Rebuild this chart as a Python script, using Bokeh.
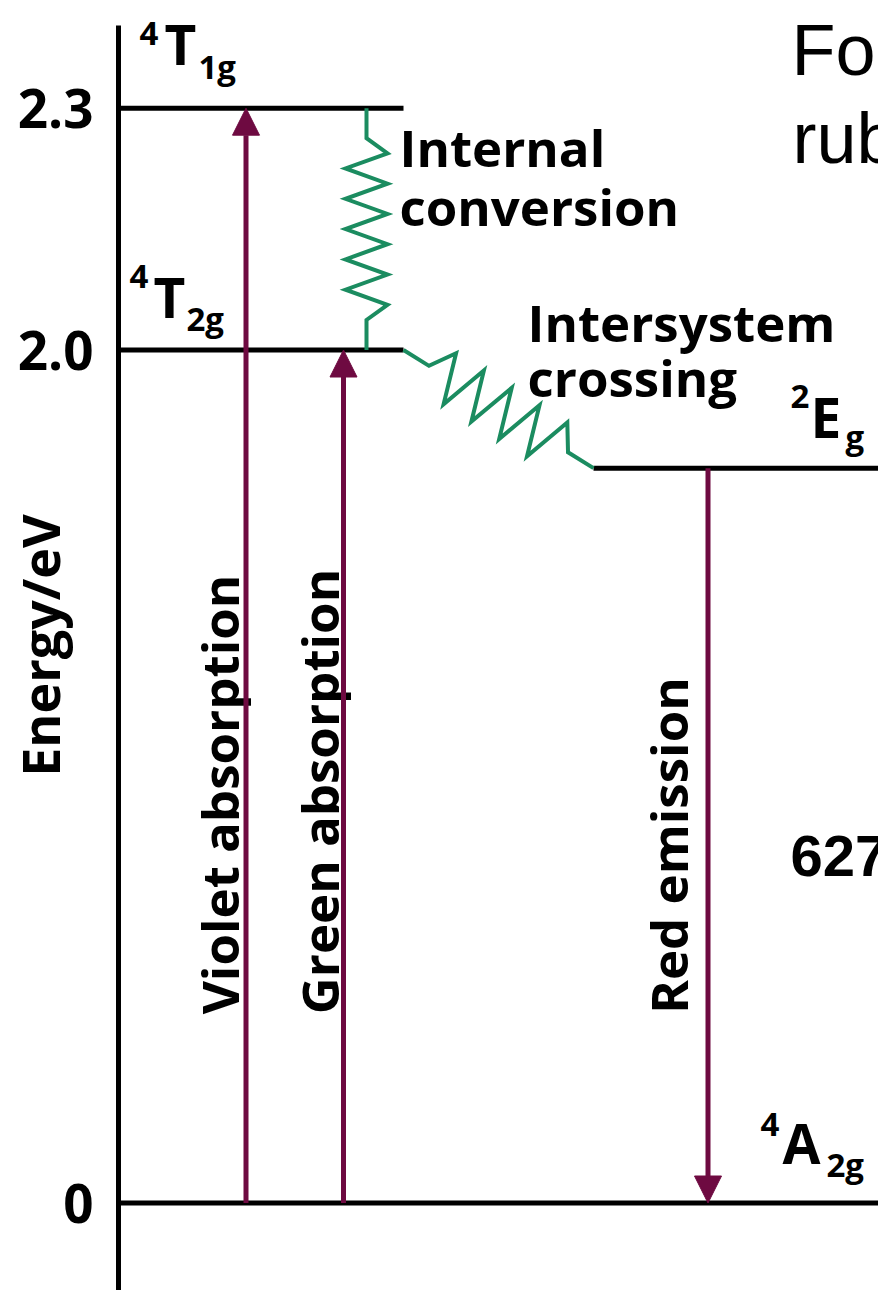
import numpy as np
from bokeh.plotting import figure
from bokeh.models import Range1d, FixedTicker, ColumnDataSource, Arrow, NormalHead
from bokeh.core.properties import value
from bokeh.embed import file_html
from bokeh.resources import INLINE

# ---------------- data ----------------
level_terms = ["4A2g", "2Eg", "4T2g", "4T1g"]
level_sup = ["4", "2", "4", "4"]
level_main = ["A", "E", "T", "T"]
level_sub = ["2g", "g", "2g", "1g"]
level_heights = [0.0, 1.723, 2.0, 2.567]      # schematic height on the diagram
tick_heights = [0.0, 2.0, 2.567]
tick_labels = ["0", "2.0", "2.3"]
axis_title = "Energy/eV"

radiative_names = ["Violet absorption", "Green absorption", "Red emission"]
radiative_from = ["4A2g", "4A2g", "2Eg"]
radiative_to = ["4T1g", "4T2g", "4A2g"]

nonrad_names = [["Internal", "conversion"], ["Intersystem", "crossing"]]
nonrad_from = ["4T1g", "4T2g"]
nonrad_to = ["4T2g", "2Eg"]

title_lines = ["Fo", "rub"]
wavelength_text = "627"

# ---------------- layout / style ----------------
W, H = 878, 1290
LEFT = 118
K = 426.5               # px per diagram unit
Y0PX = 1202.5           # pixel row of height 0
SHIFT = 0.43            # anchor offset (fraction of font size) above the baseline


def ry(py):
    return (Y0PX - py) / K


def by(py, fs):
    return ry(py - SHIFT * fs)


Y_TOP = ry(0)
Y_BOT = ry(H)

ARROW_C = "#6e0a41"
ZIG_C = "#1b8c60"
FONT = value("Open Sans")
height_of = dict(zip(level_terms, level_heights))

level_x = {"4A2g": (118, 900), "2Eg": (593, 900), "4T2g": (118, 403), "4T1g": (118, 403)}
label_pos = {  # (sup x, sup y), (main x, main y), (sub x, sub y) baselines in px
    "4T1g": ((139, 47), (164, 67), (198, 80)),
    "4T2g": ((129, 290), (153, 320), (186, 332)),
    "2Eg": ((790, 410), (810, 440), (845, 450)),
    "4A2g": ((760, 1138), (782, 1166), (826, 1178)),
}
arrow_x = [245.5, 343, 707.5]
text_x = [240, 340, 689]
text_cy = [794, 791, 845]
MAIN_FS, SMALL_FS, TXT_FS = 55, 33, 51

p = figure(width=W, height=H, x_range=Range1d(LEFT, W),
           y_range=Range1d(Y_BOT, Y_TOP), x_axis_location=None,
           y_axis_location="left", toolbar_location=None, output_backend="svg",
           min_border_left=LEFT, min_border_right=0, min_border_top=0,
           min_border_bottom=0, background_fill_color="white",
           border_fill_color="white")
p.outline_line_color = None
p.grid.visible = False

ax = p.yaxis[0]
ax.ticker = FixedTicker(ticks=tick_heights)
ax.major_label_overrides = dict(zip(tick_heights, tick_labels))
ax.major_label_text_font = "Open Sans"
ax.major_label_text_font_style = "bold"
ax.major_label_text_font_size = "53px"
ax.major_label_text_color = "black"
ax.major_label_standoff = 25
ax.major_tick_in = 0
ax.major_tick_out = 0
ax.minor_tick_in = 0
ax.minor_tick_out = 0
ax.axis_line_width = 5
ax.axis_line_color = "black"
ax.bounds = (Y_BOT, ry(25))
ax.axis_label = axis_title
ax.axis_label_text_font = "Open Sans"
ax.axis_label_text_font_style = "bold"
ax.axis_label_text_font_size = "52px"
ax.axis_label_text_color = "black"
ax.axis_label_standoff = -60

# energy levels
lev = ColumnDataSource(dict(
    x0=[level_x[t][0] for t in level_terms],
    x1=[level_x[t][1] for t in level_terms],
    y=level_heights))
p.segment(x0="x0", y0="y", x1="x1", y1="y", source=lev, line_color="black",
          line_width=5, line_cap="butt")

# term symbols
for t, sup, main, sub in zip(level_terms, level_sup, level_main, level_sub):
    (sx, sy), (mx, my), (bx, bb) = label_pos[t]
    p.text(x=[mx], y=[by(my, MAIN_FS)], text=[main], text_font=FONT,
           text_font_style="bold", text_font_size=f"{MAIN_FS}px",
           text_color="black", text_baseline="alphabetic")
    p.text(x=[sx, bx], y=[by(sy, SMALL_FS), by(bb, SMALL_FS)], text=[sup, sub],
           text_font=FONT, text_font_style="bold", text_font_size=f"{SMALL_FS}px",
           text_color="black", text_baseline="alphabetic")


# non-radiative zigzags
def zigzag(x0, y0, x1, y1, lead, n, amp):
    a = np.array([x0, -y0 * K])
    b = np.array([x1, -y1 * K])
    d = b - a
    L = np.hypot(*d)
    u = d / L
    perp = np.array([u[1], -u[0]])
    step = (L - 2 * lead) / (n + 1)
    pts = [a, a + u * lead]
    for i in range(1, n + 1):
        s = 1 if i % 2 else -1
        pts.append(a + u * (lead + i * step) + perp * amp * s)
    pts += [b - u * lead, b]
    pts = np.array(pts)
    return pts[:, 0], -pts[:, 1] / K


ic_x = 366
zx, zy = zigzag(ic_x, height_of[nonrad_from[0]], ic_x, height_of[nonrad_to[0]], 30, 11, 21)
p.line(zx, zy, line_color=ZIG_C, line_width=4, line_join="miter")
zx, zy = zigzag(level_x[nonrad_from[1]][1], height_of[nonrad_from[1]],
                level_x[nonrad_to[1]][0], height_of[nonrad_to[1]], 30, 9, 25)
p.line(zx, zy, line_color=ZIG_C, line_width=4, line_join="miter")

# non-radiative labels
nr_src = ColumnDataSource(dict(
    x=[399, 399, 527, 527],
    y=[by(168, TXT_FS), by(227, TXT_FS), by(343, TXT_FS), by(398, TXT_FS)],
    text=nonrad_names[0] + nonrad_names[1]))
p.text(x="x", y="y", text="text", source=nr_src, text_font=FONT,
       text_font_style="bold", text_font_size=f"{TXT_FS}px", text_color="black",
       text_baseline="alphabetic")

# radiative transitions
for xa, f, t in zip(arrow_x, radiative_from, radiative_to):
    p.add_layout(Arrow(end=NormalHead(size=27, fill_color=ARROW_C, line_color=ARROW_C,
                                      line_width=1),
                       x_start=xa, y_start=height_of[f], x_end=xa, y_end=height_of[t],
                       line_color=ARROW_C, line_width=5))

rt_src = ColumnDataSource(dict(x=[v - SHIFT * TXT_FS for v in text_x],
                               y=[ry(v) for v in text_cy], text=radiative_names))
p.text(x="x", y="y", text="text", source=rt_src, angle=90, angle_units="deg",
       text_font=FONT, text_font_style="bold", text_font_size=f"{TXT_FS}px",
       text_color="black", text_align="center", text_baseline="alphabetic")

# slide text cut by the right edge
p.text(x=[791, 792], y=[by(80, 72), by(168, 72)], text=title_lines,
       text_font=value("Liberation Sans"), text_font_size="72px",
       text_color="black", text_baseline="alphabetic")
p.text(x=[790], y=[by(880, 58)], text=[wavelength_text],
       text_font=value("Liberation Sans"), text_font_style="bold",
       text_font_size="58px", text_color="black", text_baseline="alphabetic")

open("out.html", "w").write(file_html(p, INLINE))
